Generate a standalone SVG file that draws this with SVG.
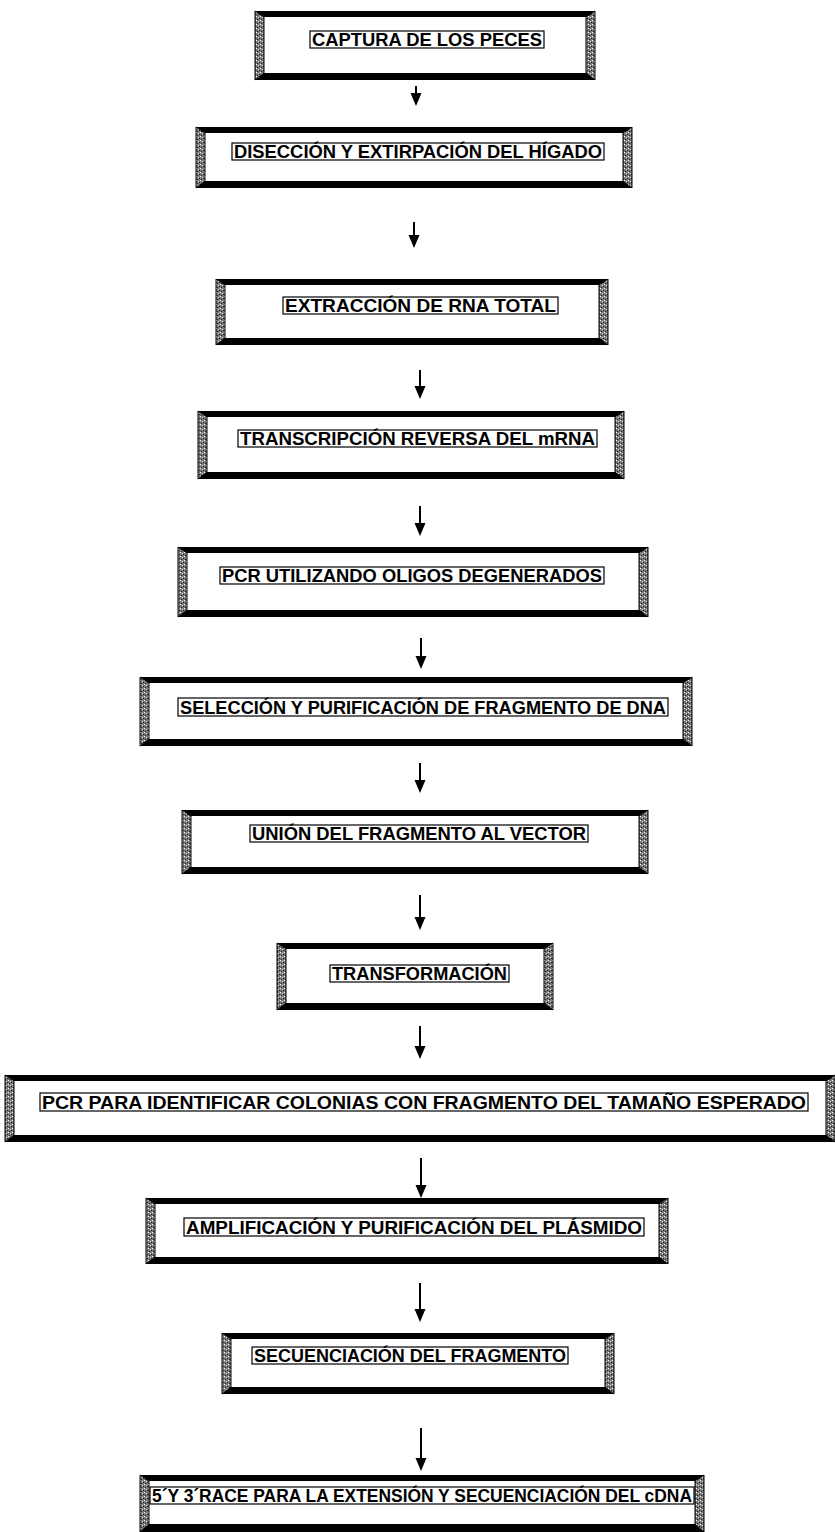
<svg xmlns="http://www.w3.org/2000/svg" width="835" height="1532" viewBox="0 0 835 1532">
<defs>
<pattern id="sp" width="4" height="4" patternUnits="userSpaceOnUse">
<rect width="4" height="4" fill="#7a7a7a"/>
<rect x="0" y="0" width="1" height="1" fill="#ffffff"/>
<rect x="2" y="1" width="1" height="1" fill="#dddddd"/>
<rect x="1" y="3" width="1" height="1" fill="#222222"/>
<rect x="3" y="2" width="1" height="1" fill="#222222"/>
</pattern>
<marker id="ah" markerUnits="userSpaceOnUse" markerWidth="14" markerHeight="12" refX="1" refY="5.5" orient="auto">
<path d="M0,0 L13,5.5 L0,11 z" fill="#000"/>
</marker>
</defs>
<style>
.bar{fill:#000}
.side{fill:url(#sp);stroke:#000;stroke-width:1}
.face{fill:#fff}
.tb{fill:#fff;stroke:#000;stroke-width:1.2}
.t{font-family:"Liberation Sans",Arial,sans-serif;font-weight:bold;font-size:19px;fill:#000}
.ar{stroke:#000;stroke-width:2;fill:none;marker-end:url(#ah)}
</style>
<rect width="835" height="1532" fill="#fff"/>

<g id="connectors">
<line class="ar" x1="416" y1="86" x2="416" y2="94"/>
<line class="ar" x1="414" y1="222" x2="414" y2="236"/>
<line class="ar" x1="420" y1="370" x2="420" y2="387"/>
<line class="ar" x1="420" y1="506" x2="420" y2="524"/>
<line class="ar" x1="421" y1="638" x2="421" y2="657"/>
<line class="ar" x1="420" y1="763" x2="420" y2="781"/>
<line class="ar" x1="420" y1="895" x2="420" y2="918"/>
<line class="ar" x1="420" y1="1026" x2="420" y2="1047"/>
<line class="ar" x1="421" y1="1158" x2="421" y2="1186"/>
<line class="ar" x1="420" y1="1283" x2="420" y2="1310"/>
<line class="ar" x1="421" y1="1428" x2="421" y2="1459"/>
</g>

<g id="n1">
<rect class="face" x="255" y="11" width="340" height="69"/>
<polygon class="bar" points="255,11 595,11 586,17 264,17"/>
<polygon class="bar" points="255,80 595,80 586,73 264,73"/>
<polygon class="side" points="255,11 264,17 264,73 255,80"/>
<polygon class="side" points="595,11 586,17 586,73 595,80"/>
<rect class="tb" x="310" y="31" width="234" height="17"/>
<text class="t" x="312" y="46" textLength="230" lengthAdjust="spacingAndGlyphs">CAPTURA DE LOS PECES</text>
</g>

<g id="n2">
<rect class="face" x="196" y="127" width="436" height="61"/>
<polygon class="bar" points="196,127 632,127 623,133 205,133"/>
<polygon class="bar" points="196,188 632,188 623,181 205,181"/>
<polygon class="side" points="196,127 205,133 205,181 196,188"/>
<polygon class="side" points="632,127 623,133 623,181 632,188"/>
<rect class="tb" x="232" y="143" width="372" height="17"/>
<text class="t" x="234" y="158" textLength="368" lengthAdjust="spacingAndGlyphs">DISECCIÓN Y EXTIRPACIÓN DEL HÍGADO</text>
</g>

<g id="n3">
<rect class="face" x="216" y="279" width="392" height="66"/>
<polygon class="bar" points="216,279 608,279 599,285 225,285"/>
<polygon class="bar" points="216,345 608,345 599,338 225,338"/>
<polygon class="side" points="216,279 225,285 225,338 216,345"/>
<polygon class="side" points="608,279 599,285 599,338 608,345"/>
<rect class="tb" x="283" y="297" width="275" height="17"/>
<text class="t" x="285" y="312" textLength="271" lengthAdjust="spacingAndGlyphs">EXTRACCIÓN DE RNA  TOTAL</text>
</g>

<g id="n4">
<rect class="face" x="198" y="411" width="426" height="68"/>
<polygon class="bar" points="198,411 624,411 615,417 207,417"/>
<polygon class="bar" points="198,479 624,479 615,472 207,472"/>
<polygon class="side" points="198,411 207,417 207,472 198,479"/>
<polygon class="side" points="624,411 615,417 615,472 624,479"/>
<rect class="tb" x="238" y="430" width="359" height="17"/>
<text class="t" x="240" y="445" textLength="355" lengthAdjust="spacingAndGlyphs">TRANSCRIPCIÓN REVERSA  DEL mRNA</text>
</g>

<g id="n5">
<rect class="face" x="178" y="547" width="470" height="70"/>
<polygon class="bar" points="178,547 648,547 639,553 187,553"/>
<polygon class="bar" points="178,617 648,617 639,610 187,610"/>
<polygon class="side" points="178,547 187,553 187,610 178,617"/>
<polygon class="side" points="648,547 639,553 639,610 648,617"/>
<rect class="tb" x="220" y="567" width="384" height="17"/>
<text class="t" x="222" y="582" textLength="380" lengthAdjust="spacingAndGlyphs">PCR UTILIZANDO OLIGOS DEGENERADOS</text>
</g>

<g id="n6">
<rect class="face" x="140" y="677" width="552" height="69"/>
<polygon class="bar" points="140,677 692,677 683,683 149,683"/>
<polygon class="bar" points="140,746 692,746 683,739 149,739"/>
<polygon class="side" points="140,677 149,683 149,739 140,746"/>
<polygon class="side" points="692,677 683,683 683,739 692,746"/>
<rect class="tb" x="178" y="698" width="490" height="18"/>
<text class="t" x="180" y="714" textLength="486" lengthAdjust="spacingAndGlyphs">SELECCIÓN Y PURIFICACIÓN DE FRAGMENTO DE DNA</text>
</g>

<g id="n7">
<rect class="face" x="182" y="810" width="466" height="64"/>
<polygon class="bar" points="182,810 648,810 639,816 191,816"/>
<polygon class="bar" points="182,874 648,874 639,867 191,867"/>
<polygon class="side" points="182,810 191,816 191,867 182,874"/>
<polygon class="side" points="648,810 639,816 639,867 648,874"/>
<rect class="tb" x="250" y="825" width="338" height="17"/>
<text class="t" x="252" y="840" textLength="334" lengthAdjust="spacingAndGlyphs">UNIÓN DEL FRAGMENTO AL VECTOR</text>
</g>

<g id="n8">
<rect class="face" x="277" y="943" width="276" height="67"/>
<polygon class="bar" points="277,943 553,943 544,949 286,949"/>
<polygon class="bar" points="277,1010 553,1010 544,1003 286,1003"/>
<polygon class="side" points="277,943 286,949 286,1003 277,1010"/>
<polygon class="side" points="553,943 544,949 544,1003 553,1010"/>
<rect class="tb" x="330" y="965" width="179" height="17"/>
<text class="t" x="332" y="980" textLength="175" lengthAdjust="spacingAndGlyphs">TRANSFORMACIÓN</text>
</g>

<g id="n9">
<rect class="face" x="5" y="1075" width="830" height="67"/>
<polygon class="bar" points="5,1075 835,1075 826,1081 14,1081"/>
<polygon class="bar" points="5,1142 835,1142 826,1135 14,1135"/>
<polygon class="side" points="5,1075 14,1081 14,1135 5,1142"/>
<polygon class="side" points="835,1075 826,1081 826,1135 835,1142"/>
<rect class="tb" x="40" y="1093" width="768" height="18"/>
<text class="t" x="42" y="1109" textLength="764" lengthAdjust="spacingAndGlyphs">PCR PARA IDENTIFICAR COLONIAS CON  FRAGMENTO DEL TAMAÑO ESPERADO</text>
</g>

<g id="n10">
<rect class="face" x="146" y="1198" width="522" height="66"/>
<polygon class="bar" points="146,1198 668,1198 659,1204 155,1204"/>
<polygon class="bar" points="146,1264 668,1264 659,1257 155,1257"/>
<polygon class="side" points="146,1198 155,1204 155,1257 146,1264"/>
<polygon class="side" points="668,1198 659,1204 659,1257 668,1264"/>
<rect class="tb" x="184" y="1218" width="460" height="18"/>
<text class="t" x="186" y="1234" textLength="456" lengthAdjust="spacingAndGlyphs">AMPLIFICACIÓN Y PURIFICACIÓN  DEL PLÁSMIDO</text>
</g>

<g id="n11">
<rect class="face" x="222" y="1333" width="392" height="61"/>
<polygon class="bar" points="222,1333 614,1333 605,1339 231,1339"/>
<polygon class="bar" points="222,1394 614,1394 605,1387 231,1387"/>
<polygon class="side" points="222,1333 231,1339 231,1387 222,1394"/>
<polygon class="side" points="614,1333 605,1339 605,1387 614,1394"/>
<rect class="tb" x="252" y="1347" width="316" height="17"/>
<text class="t" x="254" y="1362" textLength="312" lengthAdjust="spacingAndGlyphs">SECUENCIACIÓN DEL FRAGMENTO</text>
</g>

<g id="n12">
<rect class="face" x="140" y="1475" width="564" height="57"/>
<polygon class="bar" points="140,1475 704,1475 695,1481 149,1481"/>
<polygon class="bar" points="140,1532 704,1532 695,1524 149,1524"/>
<polygon class="side" points="140,1475 149,1481 149,1524 140,1532"/>
<polygon class="side" points="704,1475 695,1481 695,1524 704,1532"/>
<rect class="tb" x="150" y="1487" width="544" height="17"/>
<text class="t" x="152" y="1502" textLength="540" lengthAdjust="spacingAndGlyphs">5´Y 3´RACE PARA LA EXTENSIÓN  Y SECUENCIACIÓN DEL cDNA</text>
</g>
</svg>
